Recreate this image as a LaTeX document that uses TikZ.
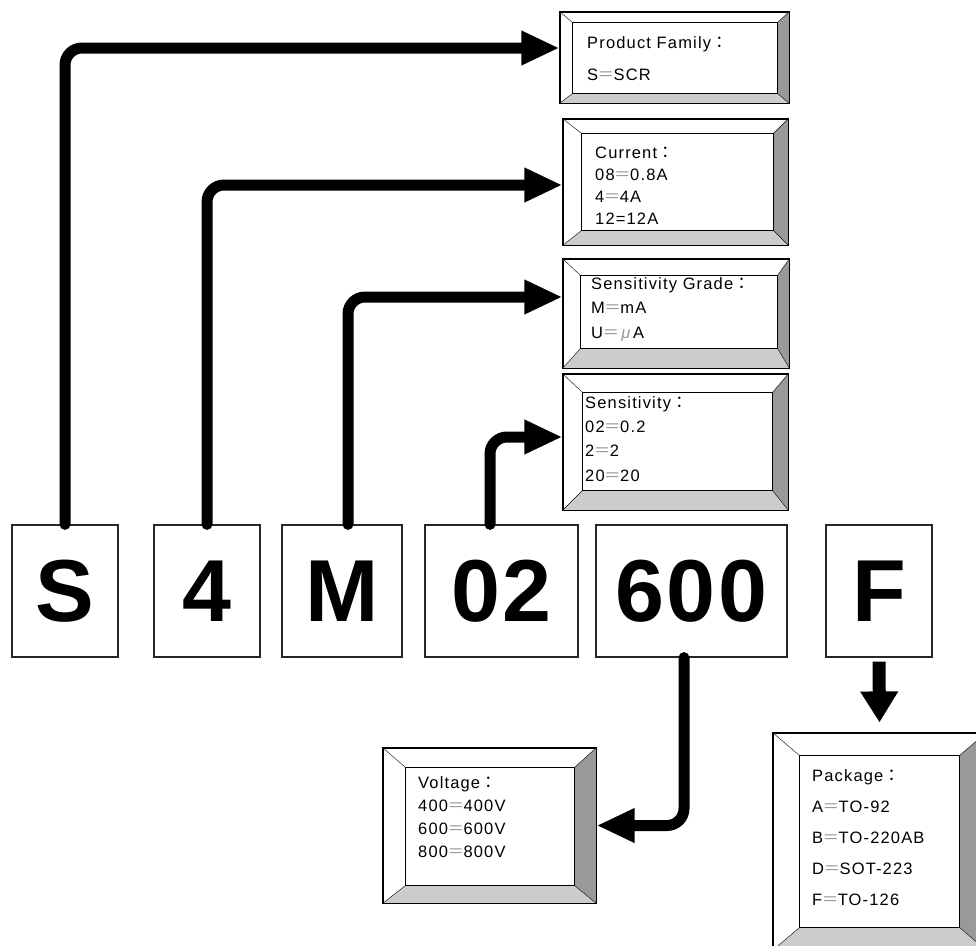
\documentclass[tikz,border=0pt]{standalone}
\usepackage{fontspec}
\setmainfont{Liberation Sans}[LetterSpace=7]
\newfontfamily\cjk{Noto Sans CJK TC}
\usetikzlibrary{arrows.meta, calc}

\definecolor{sidegray}{gray}{0.6}
\definecolor{basegray}{gray}{0.8}
\definecolor{eqgray}{gray}{0.6}

% full width signs as printed
\newcommand\eq{{\cjk\color{eqgray}\kern-0.5pt＝\kern-0.5pt}}
\newcommand\fcolon{{\cjk ：}}

% bevelled frame round a named node: name, left, top, right, bottom
\newcommand\bevelframe[5]{%
  \coordinate (#1-nw) at ($(#1.north west)+(#2,#3)$);
  \coordinate (#1-ne) at ($(#1.north east)+(-#4,#3)$);
  \coordinate (#1-se) at ($(#1.south east)+(-#4,-#5)$);
  \coordinate (#1-sw) at ($(#1.south west)+(#2,-#5)$);
  \fill[sidegray] (#1.north east) -- (#1-ne) -- (#1-se) -- (#1.south east) -- cycle;
  \fill[basegray] (#1.south west) -- (#1-sw) -- (#1-se) -- (#1.south east) -- cycle;
  \draw[thin] (#1.north west) -- (#1-nw) (#1.north east) -- (#1-ne)
    (#1.south east) -- (#1-se) (#1.south west) -- (#1-sw);
  \draw[line width=0.9pt] (#1-nw) rectangle (#1-se);
  \draw[line width=1.2pt] (#1.north west) rectangle (#1.south east);
}

\begin{document}
\begin{tikzpicture}[x=1pt, y=-1pt,
    letterbox/.style={draw=black!85, line width=1.2pt, minimum width=#1, minimum height=132, inner sep=0pt,
      font=\bfseries\fontsize{88}{88}\selectfont\addfontfeature{LetterSpace=3}},
    infobox/.style={draw, line width=1.2pt, fill=white, inner sep=0pt},
    infotext/.style={anchor=base west, align=left, inner sep=0pt, font=\fontsize{16.5}{#1}\selectfont},
    link/.style={line width=11pt, line cap=round, rounded corners=17pt, -{Triangle[length=38pt, width=32pt]}},
    drop/.style={line width=13pt, -{Triangle[length=31pt, width=36pt]}}
]
    \useasboundingbox (0,0) rectangle (976,945);

    % Part number boxes
    \node (fam) [letterbox=106] at (65,591) {S};
    \node (cur) [letterbox=106] at (207,591) {4};
    \node (grade) [letterbox=120] at (342,591) {M};
    \node (sens) [letterbox=153] at (501.5,591) {02};
    \node (volt) [letterbox=191] at (691.5,591) {600};
    \node (pack) [letterbox=106] at (879,591) {F};

    % Product family (text placed by its last baseline)
    \node (fam_info) [infobox, minimum width=229, minimum height=91] at (674.5,57.5) {};
    \bevelframe{fam_info}{13}{11}{12}{10}
    \node (fam_text) [infotext=32] at (587,80) {Product Family\fcolon\\S\eq SCR};

    % Current
    \node (cur_info) [infobox, minimum width=225, minimum height=126] at (675.5,182) {};
    \bevelframe{cur_info}{19}{15}{15}{15}
    \node (cur_text) [infotext=22] at (595,224) {Current\fcolon\\08\eq 0.8A\\4\eq 4A\\12=12A};

    % Sensitivity grade
    \node (grade_info) [infobox, minimum width=226, minimum height=109] at (676,313.5) {};
    \bevelframe{grade_info}{18}{17}{12}{20}
    \node (grade_text) [infotext=24.5] at (591,338)
      {Sensitivity Grade\fcolon\\M\eq mA\\U\eq\,{\color{eqgray}\itshape μ}\,A};

    % Sensitivity
    \node (sens_info) [infobox, minimum width=225, minimum height=136] at (675.5,442) {};
    \bevelframe{sens_info}{20}{19}{16}{20}
    \node (sens_text) [infotext=24.3] at (585,481) {Sensitivity\fcolon\\02\eq 0.2\\2\eq 2\\20\eq 20};

    % Voltage
    \node (volt_info) [infobox, minimum width=213, minimum height=155] at (489.5,825.5) {};
    \bevelframe{volt_info}{23}{20}{22}{18}
    \node (volt_text) [infotext=23] at (418,857) {Voltage\fcolon\\400\eq 400V\\600\eq 600V\\800\eq 800V};

    % Package
    \node (pack_info) [infobox, minimum width=213, minimum height=217] at (879.5,841.5) {};
    \bevelframe{pack_info}{27}{23}{27}{23}
    \node (pack_text) [infotext=31] at (812,905)
      {Package\fcolon\\A\eq TO-92\\B\eq TO-220AB\\D\eq SOT-223\\F\eq TO-126};

    % Links
    \draw [link] (fam.north) |- ([yshift=9.5pt]fam_info.west);
    \draw [link] (cur.north) |- ([yshift=-3pt]cur_info.west);
    \draw [link] ([xshift=6pt]grade.north) |- ([yshift=16.5pt]grade_info.west);
    \draw [link] ([xshift=-11.5pt]sens.north) |- ([yshift=5pt]sens_info.west);
    \draw [link] ([xshift=-7.5pt]volt.south) |- (volt_info.east);
    \draw [drop] ([yshift=-4pt]pack.south) -- ([yshift=10pt]pack_info.north);

\end{tikzpicture}
\end{document}
